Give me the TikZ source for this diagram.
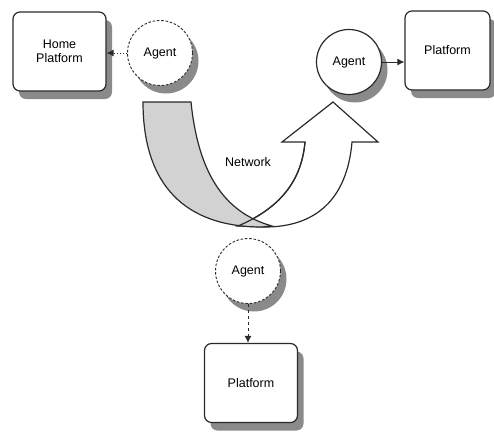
\documentclass[tikz,border=0pt]{standalone}
\usepackage{fontspec}
\setmainfont{Liberation Sans}
\usetikzlibrary{shadows,arrows.meta}
\definecolor{edge}{HTML}{2A2A2A}
\definecolor{shade}{HTML}{8A8A8A}
\definecolor{band}{HTML}{D2D2D2}
\begin{document}
\begin{tikzpicture}[x=1pt,y=-1pt,
  lbl/.style={font=\fontsize{12.5}{14.5}\selectfont},
  plat/.style={lbl, draw=edge, line width=1.2pt, fill=white, rounded corners=7pt,
    minimum width=93pt, minimum height=79pt, align=center, inner sep=2pt,
    drop shadow={shadow xshift=6pt, shadow yshift=-8pt, fill=shade, opacity=1}},
  agent/.style={lbl, circle, draw=edge, line width=1.2pt, fill=white, minimum size=65pt, inner sep=0pt,
    drop shadow={shadow xshift=6pt, shadow yshift=-8pt, fill=shade, opacity=1}},
  ghost/.style={agent, dash pattern=on 2.5pt off 1.8pt, line width=0.9pt},
  tip/.style={-{Latex[length=7pt,width=7pt]}},
  netline/.style={draw=edge, line width=1.2pt, line join=miter}
]
\useasboundingbox (0,0) rectangle (494,432);

% network: white U-turn arrow
\path[netline, fill=white]
  (238,226) .. controls (285,206) and (302,176) .. (305,142)
  -- (282,142) -- (333,102) -- (378,142) -- (352,142)
  .. controls (347,200) and (315,227) .. (265,227) -- cycle;
% grey band
\path[netline, fill=band]
  (143,102) -- (191,102)
  .. controls (198,170) and (222,212) .. (272,226)
  -- (262,227)
  .. controls (185,227) and (143,185) .. (143,102) -- cycle;
% redraw inner edge of the white arrow over the band
\draw[netline] (238,226) .. controls (285,206) and (302,176) .. (305,142);
\node[lbl] (net) at (248,162) {Network};

\node[plat] (home) at (59.5,51.5) {Home\\Platform};
\node[ghost] (a1) at (160,53) {Agent};
\node[agent] (a2) at (349,62) {Agent};
\node[plat, minimum width=85pt] (p2) at (447.5,50.5) {Platform};
\node[ghost] (a3) at (248,271) {Agent};
\node[plat] (p3) at (251,383) {Platform};

\draw[tip, dotted, line width=1pt, draw=edge] (a1.west) -- (home.east |- a1.west);
\draw[tip, line width=1pt, draw=edge] (a2.east) -- (p2.west |- a2.east);
\draw[tip, dashed, line width=1pt, draw=edge] (a3.south) -- (p3.north -| a3.south);
\end{tikzpicture}
\end{document}
